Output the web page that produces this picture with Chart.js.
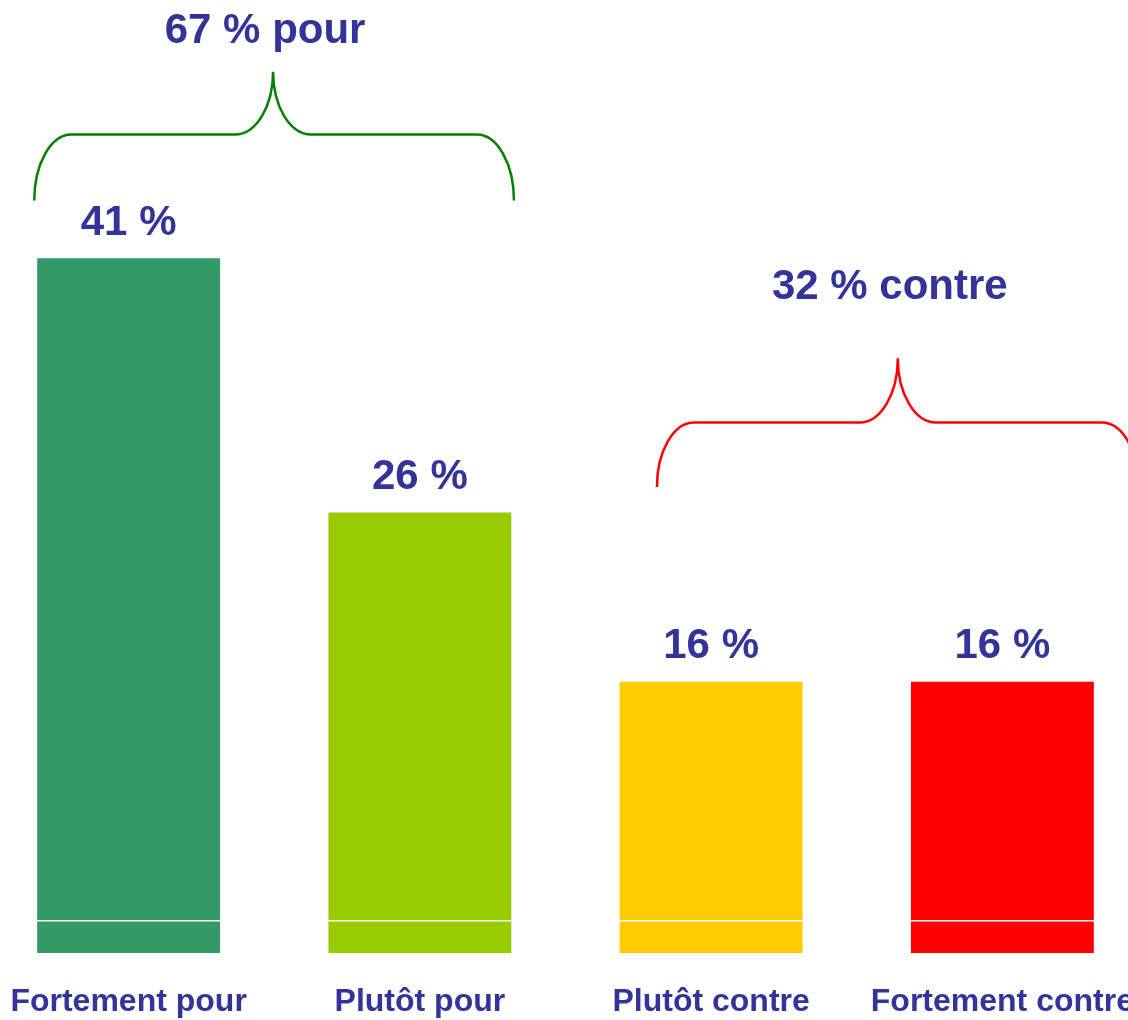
<!DOCTYPE html>
<html>
<head>
<meta charset="utf-8">
<script src="https://cdn.jsdelivr.net/npm/chart.js@4"></script>
<style>
  html, body { margin: 0; padding: 0; background: #fff; overflow: hidden; }
  #chart { position: absolute; left: -17px; top: 0; }
</style>
</head>
<body>
<canvas id="chart" width="1165" height="1020"></canvas>
<script>
const categories = ['Fortement pour', 'Plutôt pour', 'Plutôt contre', 'Fortement contre'];
const values = [41, 26, 16, 16];
const groupLabels = ['67 % pour', '32 % contre'];

const barColors = ['#339966', '#99CC00', '#FFCC00', '#FF0000'];
const textColor = '#333399';
const font = '"Liberation Sans", Arial, sans-serif';

// accolades : x en unités de catégorie, y en unités de valeur
const braces = [
  { x0: -0.324, x1: 1.323, tip: 0.496, bottom: 44.4, mid: 48.3, top: 52.0, title: 54.4, color: '#008000' },
  { x0: 1.814, x1: 3.469, tip: 2.641, bottom: 27.5, mid: 31.3, top: 35.1, title: 39.3, color: '#FF0000' }
];

function drawBrace(ctx, b, xs, ys) {
  const x0 = xs.getPixelForValue(b.x0), x1 = xs.getPixelForValue(b.x1), xt = xs.getPixelForValue(b.tip);
  const yb = ys.getPixelForValue(b.bottom), yh = ys.getPixelForValue(b.mid), yt = ys.getPixelForValue(b.top);
  const k = 0.552;
  const rx = 37, ry = yb - yh;
  const rx2 = 38, ry2 = yh - yt;
  ctx.beginPath();
  ctx.moveTo(x0, yb);
  ctx.bezierCurveTo(x0, yb - k * ry, x0 + rx - k * rx, yh, x0 + rx, yh);
  ctx.lineTo(xt - rx2, yh);
  ctx.bezierCurveTo(xt - rx2 + k * rx2, yh, xt, yt + k * ry2, xt, yt);
  ctx.bezierCurveTo(xt, yt + k * ry2, xt + rx2 - k * rx2, yh, xt + rx2, yh);
  ctx.lineTo(x1 - rx, yh);
  ctx.bezierCurveTo(x1 - rx + k * rx, yh, x1, yb - k * ry, x1, yb);
  ctx.strokeStyle = b.color;
  ctx.lineWidth = 2.5;
  ctx.stroke();
}

const labelsPlugin = {
  id: 'labels',
  afterDraw(chart) {
    const ctx = chart.ctx;
    const xs = chart.scales.x, ys = chart.scales.y;
    ctx.save();
    ctx.fillStyle = textColor;
    ctx.font = 'bold 42px ' + font;
    ctx.textAlign = 'center';
    ctx.textBaseline = 'middle';
    chart.getDatasetMeta(0).data.forEach((bar, i) => {
      ctx.fillText(values[i] + ' %', bar.x, bar.y - 35);
    });
    braces.forEach((b, i) => {
      drawBrace(ctx, b, xs, ys);
      ctx.fillStyle = textColor;
      ctx.fillText(groupLabels[i], xs.getPixelForValue(b.tip) - 8, ys.getPixelForValue(b.title));
    });
    ctx.restore();
  }
};

new Chart(document.getElementById('chart'), {
  type: 'bar',
  data: {
    labels: categories,
    datasets: [{
      data: values,
      backgroundColor: barColors,
      barPercentage: 0.628,
      categoryPercentage: 1
    }]
  },
  options: {
    responsive: false,
    animation: false,
    layout: { padding: { top: 4, bottom: 0, left: 0, right: 0 } },
    plugins: { legend: { display: false }, tooltip: { enabled: false } },
    scales: {
      x: {
        grid: { display: false, drawTicks: false },
        border: { display: false },
        ticks: { color: textColor, font: { family: font, size: 32, weight: 'bold' }, padding: 30, maxRotation: 0, autoSkip: false },
        afterFit: s => { s.height = 67; s.paddingLeft = 0; s.paddingRight = 0; }
      },
      y: {
        min: 0,
        max: 56,
        border: { display: false },
        ticks: { display: false },
        grid: { color: '#ffffff', lineWidth: 1.5, z: 1, drawTicks: false },
        afterBuildTicks: s => { s.ticks = [{ value: 1.9 }]; },
        afterFit: s => { s.width = 0; }
      }
    }
  },
  plugins: [labelsPlugin]
});
</script>
</body>
</html>
